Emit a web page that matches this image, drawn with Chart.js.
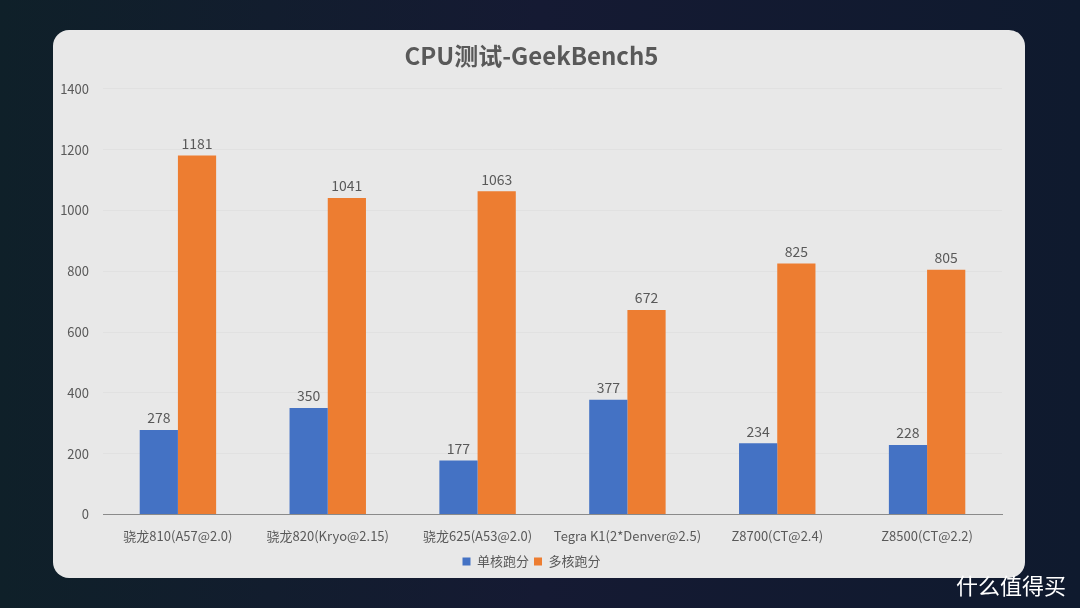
<!DOCTYPE html>
<html>
<head>
<meta charset="utf-8">
<script src="https://cdn.jsdelivr.net/npm/chart.js@4"></script>
<style>
    html, body {
        margin: 0;
        padding: 0;
        width: 1080px;
        height: 608px;
        overflow: hidden;
        background: linear-gradient(90deg, #0f2029 0%, #151a33 50%, #0f1a2e 100%);
        font-family: "Noto Sans CJK SC", "Open Sans", sans-serif;
    }
    #card {
        position: absolute;
        left: 53px;
        top: 30px;
        width: 972px;
        height: 548px;
        background: #e8e8e8;
        border-radius: 16px;
    }
    #card canvas {
        position: absolute;
        left: 0;
        top: 0;
    }
    #mark {
        position: absolute;
        right: 14px;
        bottom: 8px;
        color: #ffffff;
        font-size: 22px;
        font-family: "Noto Sans CJK SC", sans-serif;
    }
</style>
</head>
<body>
<div id="card"><canvas id="myChart" width="972" height="548"></canvas></div>
<div id="mark">什么值得买</div>
<script>
const categories = ['骁龙810(A57@2.0)', '骁龙820(Kryo@2.15)', '骁龙625(A53@2.0)', 'Tegra K1(2*Denver@2.5)', 'Z8700(CT@2.4)', 'Z8500(CT@2.2)'];
const single_core = [278, 350, 177, 377, 234, 228];
const multi_core = [1181, 1041, 1063, 672, 825, 805];
const y_ticks = [0, 200, 400, 600, 800, 1000, 1200, 1400];

const font_name = '"Noto Sans CJK SC", "Open Sans", sans-serif';
const text_color = '#595959';

// draws the number above each bar
const valueLabels = {
    id: 'valueLabels',
    afterDatasetsDraw(chart) {
        const ctx = chart.ctx;
        ctx.save();
        ctx.font = '14px ' + font_name;
        ctx.fillStyle = text_color;
        ctx.textAlign = 'center';
        ctx.textBaseline = 'bottom';
        chart.data.datasets.forEach(function (ds, i) {
            chart.getDatasetMeta(i).data.forEach(function (bar, j) {
                ctx.fillText(ds.data[j], bar.x, bar.y - 5);
            });
        });
        ctx.restore();
    }
};

const ctx = document.getElementById('myChart').getContext('2d');

const myChart = new Chart(ctx, {
    type: 'bar',
    data: {
        labels: categories,
        datasets: [{
            label: '单核跑分',
            data: single_core,
            backgroundColor: '#4472c4',
            categoryPercentage: 0.51,
            barPercentage: 1.0
        }, {
            label: '多核跑分',
            data: multi_core,
            backgroundColor: '#ed7d31',
            categoryPercentage: 0.51,
            barPercentage: 1.0
        }]
    },
    options: {
        responsive: false,
        animation: false,
        layout: {
            padding: { left: 8, right: 23, top: 2, bottom: 0 }
        },
        plugins: {
            title: {
                display: true,
                text: 'CPU测试-GeekBench5',
                color: text_color,
                font: { family: font_name, size: 24, weight: 'bold' },
                padding: { top: 9, bottom: 19 }
            },
            legend: {
                position: 'bottom',
                labels: {
                    color: text_color,
                    font: { family: font_name, size: 13 },
                    boxWidth: 8,
                    boxHeight: 8,
                    padding: 5
                }
            },
            tooltip: { enabled: false }
        },
        scales: {
            x: {
                grid: { display: false },
                border: { color: '#8a8a8a', width: 1 },
                ticks: {
                    color: text_color,
                    font: { family: font_name, size: 13 },
                    maxRotation: 0,
                    autoSkip: false,
                    padding: 6
                }
            },
            y: {
                min: 0,
                max: 1400,
                afterBuildTicks: function (axis) {
                    axis.ticks = y_ticks.map(v => ({ value: v }));
                },
                afterFit: function (axis) {
                    axis.width = 42;
                },
                grid: { color: '#e1e1e1', drawTicks: false },
                border: { display: false },
                ticks: {
                    color: text_color,
                    font: { family: font_name, size: 13 },
                    padding: 14,
                    callback: function (value) {
                        return String(value);
                    }
                }
            }
        }
    },
    plugins: [valueLabels]
});
</script>
</body>
</html>
